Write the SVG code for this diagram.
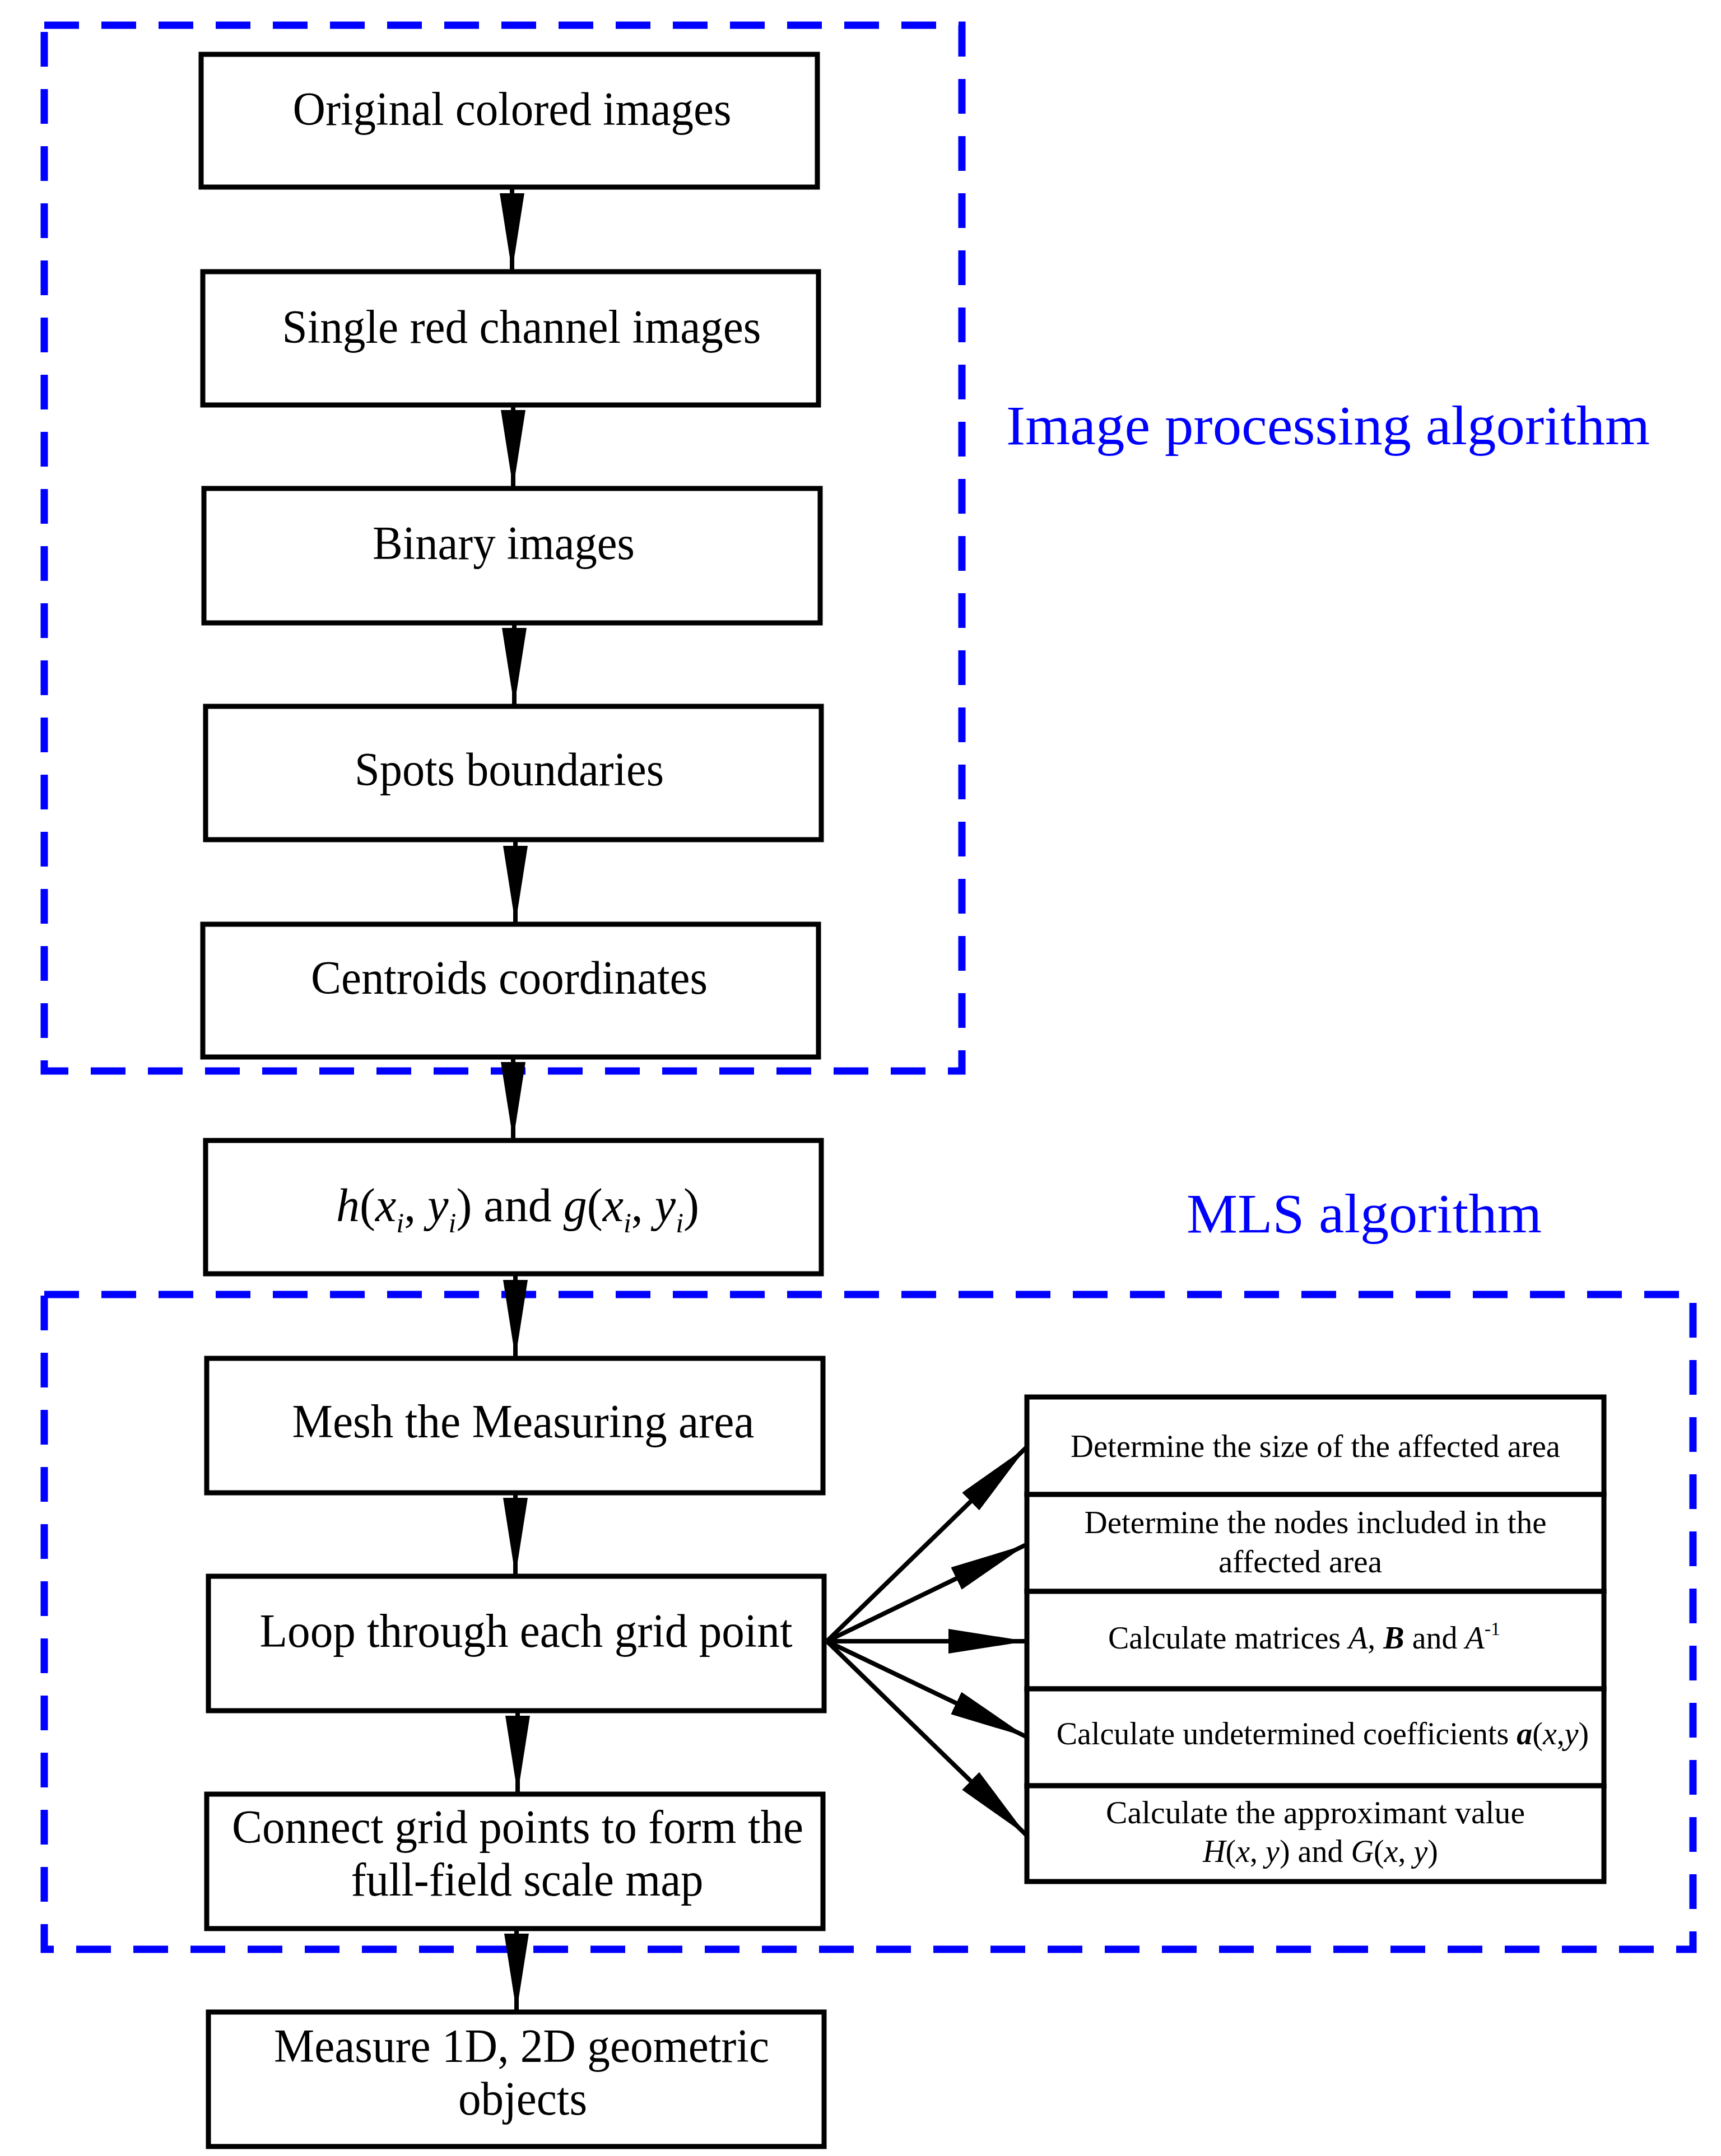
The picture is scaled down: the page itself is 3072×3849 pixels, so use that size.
<svg xmlns="http://www.w3.org/2000/svg" width="3072" height="3849" viewBox="0 0 3072 3849">
<style>
.b{fill:#fff;stroke:#000;stroke-width:9}
.d{fill:none;stroke:#0000ff;stroke-width:13;stroke-dasharray:62 40}
.t{font-family:"Liberation Serif",serif;font-size:84px;fill:#000;text-anchor:middle}
.s{font-family:"Liberation Serif",serif;font-size:56px;fill:#000;text-anchor:middle}
.l{font-family:"Liberation Serif",serif;font-size:100px;fill:#0000ff}
.c{stroke:#000;stroke-width:8;fill:none;marker-end:url(#a)}
</style>
<defs><marker id="a" markerUnits="userSpaceOnUse" markerWidth="150" markerHeight="50" refX="140" refY="22" orient="auto"><path d="M0,0 L140,22 L0,44 Z" fill="#000"/></marker></defs>
<g id="groups">
<rect class="d" x="79" y="45" width="1638" height="1867"/>
<rect class="d" x="79" y="2311" width="2943" height="1169"/>
<text class="l" x="1796" y="793" textLength="1149" lengthAdjust="spacingAndGlyphs">Image processing algorithm</text>
<text class="l" x="2118" y="2200" textLength="634" lengthAdjust="spacingAndGlyphs">MLS algorithm</text>
</g>
<g id="connectors">
<line class="c" x1="914" y1="334" x2="914" y2="485"/>
<line class="c" x1="916" y1="723" x2="916" y2="872"/>
<line class="c" x1="918" y1="1112" x2="918" y2="1261"/>
<line class="c" x1="920" y1="1499" x2="920" y2="1650"/>
<line class="c" x1="916" y1="1887" x2="916" y2="2036"/>
<line class="c" x1="920" y1="2274" x2="920" y2="2425"/>
<line class="c" x1="920" y1="2665" x2="920" y2="2814"/>
<line class="c" x1="924" y1="3054" x2="924" y2="3203"/>
<line class="c" x1="922" y1="3443" x2="922" y2="3592"/>
<line class="c" x1="1476" y1="2930" x2="1833" y2="2583"/>
<line class="c" x1="1476" y1="2930" x2="1833" y2="2757"/>
<line class="c" x1="1476" y1="2930" x2="1833" y2="2930"/>
<line class="c" x1="1476" y1="2930" x2="1833" y2="3101"/>
<line class="c" x1="1476" y1="2930" x2="1833" y2="3277"/>
</g>
<g id="n1"><rect class="b" x="359" y="97" width="1100" height="237"/><text class="t" x="914" y="223" textLength="783" lengthAdjust="spacingAndGlyphs">Original colored images</text></g>
<g id="n2"><rect class="b" x="362" y="485" width="1099" height="238"/><text class="t" x="931" y="612" textLength="855" lengthAdjust="spacingAndGlyphs">Single red channel images</text></g>
<g id="n3"><rect class="b" x="364" y="872" width="1100" height="240"/><text class="t" x="899" y="998" textLength="468" lengthAdjust="spacingAndGlyphs">Binary images</text></g>
<g id="n4"><rect class="b" x="367" y="1261" width="1099" height="238"/><text class="t" x="909" y="1402" textLength="552" lengthAdjust="spacingAndGlyphs">Spots boundaries</text></g>
<g id="n5"><rect class="b" x="362" y="1650" width="1099" height="237"/><text class="t" x="909" y="1774" textLength="708" lengthAdjust="spacingAndGlyphs">Centroids coordinates</text></g>
<g id="n6"><rect class="b" x="367" y="2036" width="1099" height="238"/><text class="t" x="924" y="2180"><tspan font-style="italic">h</tspan>(<tspan font-style="italic">x</tspan><tspan font-size="50" font-style="italic" dy="20">i</tspan><tspan dy="-20">,  </tspan><tspan font-style="italic">y</tspan><tspan font-size="50" font-style="italic" dy="20">i</tspan><tspan dy="-20">) and </tspan><tspan font-style="italic">g</tspan>(<tspan font-style="italic">x</tspan><tspan font-size="50" font-style="italic" dy="20">i</tspan><tspan dy="-20">,  </tspan><tspan font-style="italic">y</tspan><tspan font-size="50" font-style="italic" dy="20">i</tspan><tspan dy="-20">)</tspan></text></g>
<g id="n7"><rect class="b" x="369" y="2425" width="1100" height="240"/><text class="t" x="934" y="2566" textLength="825" lengthAdjust="spacingAndGlyphs">Mesh the Measuring area</text></g>
<g id="n8"><rect class="b" x="372" y="2814" width="1099" height="240"/><text class="t" x="939" y="2940" textLength="951" lengthAdjust="spacingAndGlyphs">Loop through each grid point</text></g>
<g id="n9"><rect class="b" x="369" y="3203" width="1100" height="240"/><text class="t" x="924" y="3290" textLength="1020" lengthAdjust="spacingAndGlyphs">Connect grid points to form the</text><text class="t" x="941" y="3384" textLength="629" lengthAdjust="spacingAndGlyphs">full-field scale map</text></g>
<g id="n10"><rect class="b" x="372" y="3592" width="1099" height="240"/><text class="t" x="931" y="3681" textLength="884" lengthAdjust="spacingAndGlyphs">Measure 1D, 2D geometric</text><text class="t" x="933" y="3775" textLength="230" lengthAdjust="spacingAndGlyphs">objects</text></g>
<g id="r1"><rect class="b" x="1833" y="2494" width="1030" height="174"/><text class="s" x="2348" y="2601" textLength="874" lengthAdjust="spacingAndGlyphs">Determine the size of the affected area</text></g>
<g id="r2"><rect class="b" x="1833" y="2668" width="1030" height="173"/><text class="s" x="2348" y="2737" textLength="825" lengthAdjust="spacingAndGlyphs">Determine the nodes included in the</text><text class="s" x="2321" y="2807" textLength="292" lengthAdjust="spacingAndGlyphs">affected area</text></g>
<g id="r3"><rect class="b" x="1833" y="2841" width="1030" height="174"/><text class="s" x="2328" y="2943">Calculate matrices <tspan font-style="italic">A</tspan>, <tspan font-style="italic" font-weight="bold">B</tspan> and <tspan font-style="italic">A</tspan><tspan font-size="34" dy="-24">-1</tspan></text></g>
<g id="r4"><rect class="b" x="1833" y="3015" width="1030" height="173"/><text class="s" x="2361" y="3114">Calculate undetermined coefficients <tspan font-style="italic" font-weight="bold">a</tspan>(<tspan font-style="italic">x</tspan>,<tspan font-style="italic">y</tspan>)</text></g>
<g id="r5"><rect class="b" x="1833" y="3188" width="1030" height="171"/><text class="s" x="2348" y="3255" textLength="748" lengthAdjust="spacingAndGlyphs">Calculate the approximant value</text><text class="s" x="2357" y="3324"><tspan font-style="italic">H</tspan>(<tspan font-style="italic">x</tspan>, <tspan font-style="italic">y</tspan>) and <tspan font-style="italic">G</tspan>(<tspan font-style="italic">x</tspan>, <tspan font-style="italic">y</tspan>)</text></g>
</svg>
